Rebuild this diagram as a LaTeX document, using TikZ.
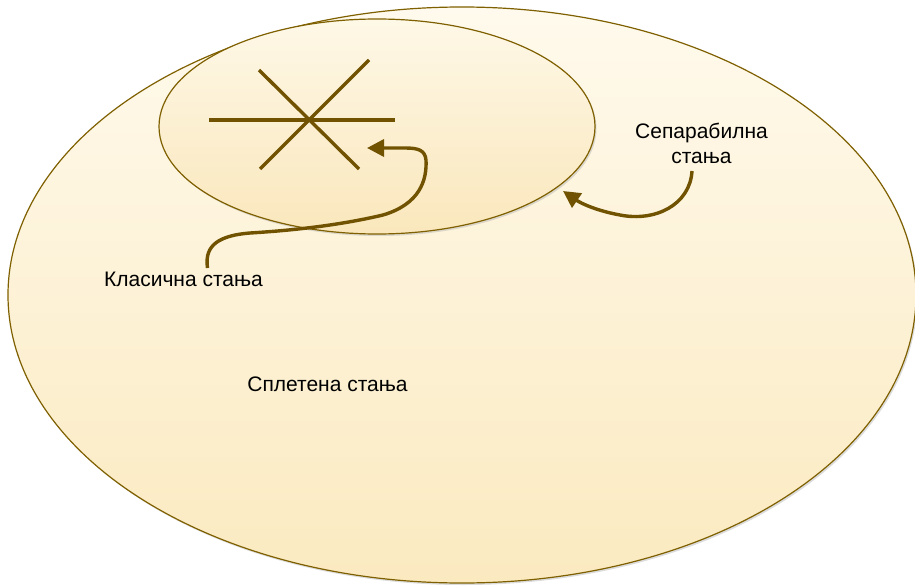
\documentclass[tikz,border=0pt]{standalone}
\usepackage{fontspec}
\setmainfont{Liberation Sans}
\usetikzlibrary{shapes.geometric,arrows.meta}
\definecolor{edgec}{RGB}{127,96,0}
\definecolor{arrc}{RGB}{112,82,0}
\definecolor{bigtop}{RGB}{255,250,237}
\definecolor{bigbot}{RGB}{251,234,192}
\definecolor{smtop}{RGB}{254,248,231}
\definecolor{smbot}{RGB}{250,231,188}
\tikzset{
  setell/.style={ellipse, inner sep=0pt, draw=edgec, line width=1.2pt},
  shadowell/.style={ellipse, inner sep=0pt, fill=black!30, opacity=0.45},
  lbl/.style={font=\fontsize{21}{24.5}\selectfont, inner sep=0pt, text=black},
  starline/.style={draw=arrc, line width=3.4pt},
  bigarrow/.style={draw=arrc, line width=3.4pt, -{Triangle[length=17pt,width=17pt]}}
}
\begin{document}
\begin{tikzpicture}[x=1pt,y=-1pt]
\useasboundingbox (0,0) rectangle (915,586);
% big ellipse
\node[shadowell, minimum width=908pt, minimum height=576pt] (bigsh) at (463.5,297) {};
\node[setell, minimum width=908pt, minimum height=576pt, top color=bigtop, bottom color=bigbot] (big) at (462,295) {};
% small ellipse
\node[shadowell, minimum width=436pt, minimum height=215pt] (smallsh) at (378.5,128.5) {};
\node[setell, minimum width=436pt, minimum height=215pt, top color=smtop, bottom color=smbot] (small) at (377,126.5) {};
% star
\coordinate (h1) at (209,120);
\coordinate (h2) at (395,120);
\coordinate (d1) at (369,60);
\coordinate (d2) at (260,169);
\coordinate (e1) at (259,70);
\coordinate (e2) at (359,169);
\draw[starline] (h1) -- (h2);
\draw[starline] (d1) -- (d2);
\draw[starline] (e1) -- (e2);
% labels
\node[lbl, anchor=base] (klas) at (183.5,286) {Класична стања};
\node[lbl, anchor=base] (splet) at (327.5,391) {Сплетена стања};
\node[lbl, anchor=base, align=center] (sepa) at (701.5,163) {Сепарабилна\\стања};
% arrows
\coordinate (k0) at (207.5,268);
\coordinate (ktip) at (367,148);
\draw[bigarrow] (k0) .. controls (205,250) and (212,236) .. (250,233)
  .. controls (300,230) and (345,224) .. (383,215)
  .. controls (420,204) and (427,180) .. (426,160)
  .. controls (425,150) and (418,148) .. (405,148)
  -- (ktip);
\coordinate (s0) at (692,171);
\coordinate (stip) at (563,191);
\draw[bigarrow] (s0) .. controls (690,205) and (655,222) .. (620,215)
  .. controls (598,211) and (582,204) .. (stip);
\end{tikzpicture}
\end{document}
